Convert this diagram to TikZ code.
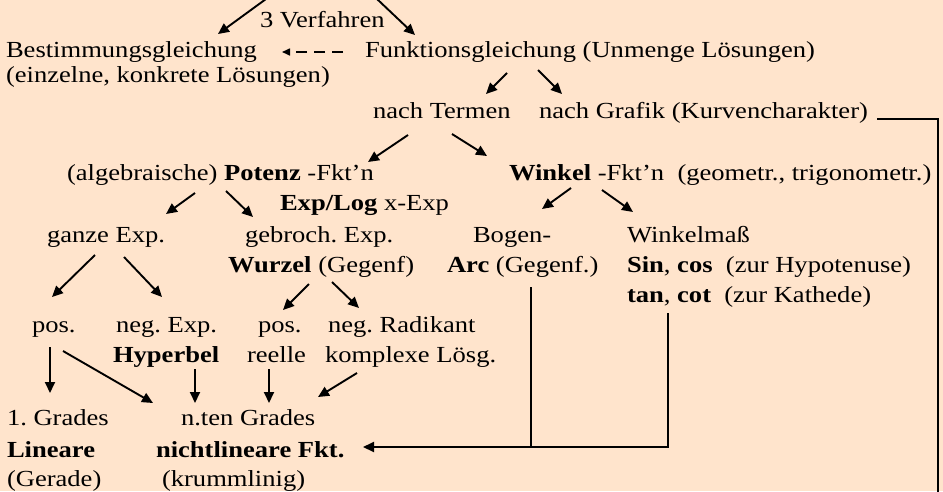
\documentclass[tikz,border=0pt]{standalone}
\usepackage{fontspec}
\setmainfont{Liberation Serif}[FakeStretch=1.155]
\usetikzlibrary{arrows.meta}
\definecolor{bg}{RGB}{255,228,204}
\frenchspacing
\begin{document}
\begin{tikzpicture}[x=1pt,y=-1pt,
  txt/.style={anchor=base west, inner sep=0pt, outer sep=0pt, font=\fontsize{23}{26}\selectfont\frenchspacing},
  arr/.style={line width=1.9pt, -{Triangle[length=11pt,width=10pt]}},
  ln/.style={line width=1.9pt},
  dasharr/.style={line width=1.6pt, dash pattern=on 11pt off 7pt, -{Triangle[length=8pt,width=7pt]}}]
\fill[bg] (0,0) rectangle (943,491);
\useasboundingbox (0,0) rectangle (943,491);
\clip (0,0) rectangle (943,491);
% texts
\node[txt] (v3) at (260,27) {3 Verfahren};
\node[txt] (best) at (6,57) {Bestimmungsgleichung};
\node[txt] (einz) at (6,82) {(einzelne, konkrete Lösungen)};
\node[txt] (funk) at (365,57) {Funktionsgleichung (Unmenge Lösungen)};
\node[txt] (terme) at (373,118) {nach Termen};
\node[txt] (grafik) at (539,118) {nach Grafik (Kurvencharakter)};
\node[txt] (pot) at (67,180) {(algebraische) \textbf{Potenz} -Fkt’n};
\node[txt] (winkel) at (509,180) {\textbf{Winkel} -Fkt’n\ \ (geometr., trigonometr.)};
\node[txt] (explog) at (280,210) {\textbf{Exp/Log} x-Exp};
\node[txt] (ganze) at (47,242) {ganze Exp.};
\node[txt] (gebr) at (245,242) {gebroch. Exp.};
\node[txt] (bogen) at (473,242) {Bogen-};
\node[txt] (wmass) at (627,242) {Winkelmaß};
\node[txt] (wurzel) at (228,272) {\textbf{Wurzel} (Gegenf)};
\node[txt] (arc) at (447,272) {\textbf{Arc} (Gegenf.)};
\node[txt] (sin) at (627,272) {\textbf{Sin}, \textbf{cos}\ \ (zur Hypotenuse)};
\node[txt] (tan) at (627,302) {\textbf{tan}, \textbf{cot}\ \ (zur Kathede)};
\node[txt] (posa) at (32,332) {pos.};
\node[txt] (negexp) at (116,332) {neg. Exp.};
\node[txt] (posb) at (258,332) {pos.};
\node[txt] (negrad) at (328,332) {neg. Radikant};
\node[txt] (hyp) at (113,362) {\textbf{Hyperbel}};
\node[txt] (reelle) at (247,362) {reelle};
\node[txt] (kompl) at (325,362) {komplexe Lösg.};
\node[txt] (grada) at (7,425) {1. Grades};
\node[txt] (nten) at (181,425) {n.ten Grades};
\node[txt] (lin) at (7,457) {\textbf{Lineare}};
\node[txt] (nlin) at (156,457) {\textbf{nichtlineare Fkt.}};
\node[txt] (gerade) at (7,486) {(Gerade)};
\node[txt] (krumm) at (162,486) {(krummlinig)};
% coordinates
\coordinate (a1s) at (266,-1);   \coordinate (a1e) at (218,34);
\coordinate (a2s) at (377,-1);   \coordinate (a2e) at (415,35);
\coordinate (a3s) at (507,73);   \coordinate (a3e) at (486,94);
\coordinate (a4s) at (538,70);   \coordinate (a4e) at (562,94);
\coordinate (a5s) at (408,135);  \coordinate (a5e) at (368,162);
\coordinate (a6s) at (452,134);  \coordinate (a6e) at (487,156);
\coordinate (a7s) at (195,193);  \coordinate (a7e) at (166,214);
\coordinate (a8s) at (226,191);  \coordinate (a8e) at (253,217);
\coordinate (a9s) at (571,188);  \coordinate (a9e) at (542,209);
\coordinate (a10s) at (602,190); \coordinate (a10e) at (633,212);
\coordinate (a11s) at (95,255);  \coordinate (a11e) at (52,297);
\coordinate (a12s) at (124,257); \coordinate (a12e) at (162,297);
\coordinate (a13s) at (309,284); \coordinate (a13e) at (283,310);
\coordinate (a14s) at (332,282); \coordinate (a14e) at (359,308);
\coordinate (a15s) at (50,347);  \coordinate (a15e) at (50,393);
\coordinate (a16s) at (63,351);  \coordinate (a16e) at (153,403);
\coordinate (a17s) at (195,369); \coordinate (a17e) at (195,403);
\coordinate (a18s) at (269,369); \coordinate (a18e) at (269,403);
\coordinate (a19s) at (357,373); \coordinate (a19e) at (318,397);
\coordinate (ds) at (343,52);    \coordinate (de) at (282,52);
\coordinate (arcs) at (531,287); \coordinate (arcb) at (531,447);
\coordinate (tans) at (668,313); \coordinate (tanb) at (668,447);
\coordinate (nltip) at (363,447);
\coordinate (gfs) at (877,119);  \coordinate (gfc) at (938,119);
\coordinate (gfe) at (938,495);
% arrows
\foreach \i in {1,...,19} {\draw[arr] (a\i s) -- (a\i e);}
\draw[dasharr] (ds) -- (de);
\draw[arr] (tans) -- (tanb) -- (nltip);
\draw[ln] (arcs) -- (arcb);
\draw[ln] (gfs) -- (gfc) -- (gfe);
\end{tikzpicture}
\end{document}
